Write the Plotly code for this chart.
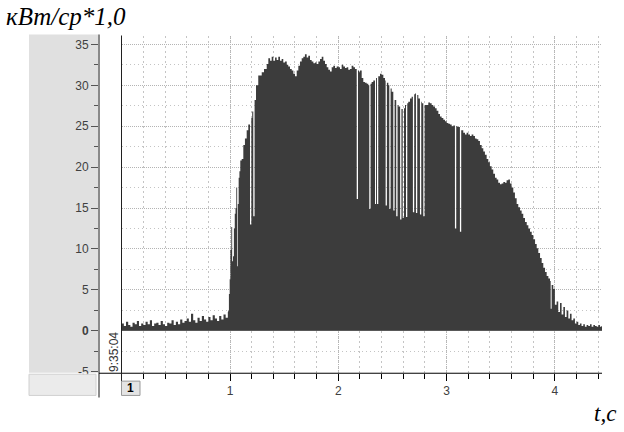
import plotly.graph_objects as go

# ---------------- data ----------------
# baseline noise before the start (t = 0 .. 0.98 s, step 0.02 s)
t_base = [round(0.02 * i, 2) for i in range(50)]
kw_base = [0.9, 0.6, 1.1, 0.7, 0.5, 1.0, 0.8, 1.2, 0.6, 0.9,
           0.7, 1.1, 0.8, 1.3, 0.6, 0.9, 1.0, 0.7, 1.2, 0.8,
           0.6, 1.0, 0.9, 1.3, 0.7, 1.1, 0.8, 1.4, 1.0, 1.2,
           1.5, 1.1, 2.1, 1.3, 1.0, 1.6, 1.2, 1.8, 1.4, 1.1,
           1.7, 1.3, 1.9, 1.5, 1.2, 1.8, 1.4, 2.0, 1.6, 2.3]

# steep rise
t_rise = [0.983, 0.990, 0.997, 1.004, 1.012, 1.020, 1.028, 1.036, 1.044, 1.051,
          1.058, 1.066, 1.072, 1.080, 1.087, 1.095, 1.108, 1.123, 1.138, 1.154,
          1.169, 1.185, 1.197, 1.205, 1.215, 1.227]
kw_rise = [2.5, 4.5, 6.3, 9.9, 12.7, 8.5, 9.1, 12.5, 14.3, 15.0,
           17.5, 7.9, 15.5, 18.7, 19.5, 20.8, 21.0, 22.7, 23.5, 24.5,
           25.2, 13.0, 26.0, 26.8, 14.0, 28.2]

# first plateau
t_peak = [1.240, 1.261, 1.293, 1.314, 1.339, 1.354, 1.370, 1.385, 1.400, 1.416,
          1.431, 1.446, 1.462, 1.477, 1.492, 1.508, 1.524, 1.538, 1.554, 1.570,
          1.585, 1.600, 1.616, 1.631, 1.646, 1.662, 1.677, 1.692, 1.708, 1.723,
          1.739, 1.754, 1.770, 1.785, 1.800, 1.816, 1.831, 1.847, 1.862, 1.877,
          1.893, 1.908, 1.923, 1.939, 1.954, 1.970, 1.985, 2.000, 2.016, 2.031,
          2.046, 2.062, 2.077, 2.092, 2.108, 2.123, 2.139, 2.154, 2.170, 2.182,
          2.191, 2.200]
kw_peak = [30.0, 31.2, 31.6, 32.0, 32.6, 33.3, 33.0, 33.5, 33.0, 33.4,
           33.1, 33.5, 33.0, 33.2, 32.8, 32.9, 32.5, 32.3, 32.0, 31.8,
           31.4, 31.1, 31.8, 32.4, 32.9, 33.3, 33.5, 33.8, 33.4, 33.6,
           33.1, 32.9, 32.7, 32.8, 32.6, 32.9, 33.2, 33.5, 33.0, 32.6,
           32.2, 31.9, 31.7, 32.2, 32.4, 32.1, 32.3, 32.2, 32.0, 32.5,
           32.3, 32.1, 32.2, 31.9, 32.0, 32.4, 32.2, 32.0, 16.1, 31.8,
           31.6, 31.8]

# middle part with many dropouts
t_mid = [2.216, 2.231, 2.246, 2.262, 2.277, 2.286, 2.298, 2.308, 2.323, 2.339,
         2.348, 2.357, 2.369, 2.385, 2.400, 2.416, 2.431, 2.437, 2.449, 2.462,
         2.471, 2.483, 2.493, 2.508, 2.520, 2.535, 2.547, 2.556, 2.571, 2.583,
         2.595, 2.607, 2.616, 2.625, 2.637, 2.646, 2.662, 2.677, 2.689, 2.701,
         2.708, 2.717, 2.729, 2.739, 2.754, 2.766, 2.772, 2.785, 2.797, 2.816,
         2.831, 2.847, 2.862, 2.877, 2.893, 2.908, 2.924, 2.939, 2.954, 2.970,
         2.985, 3.000, 3.016, 3.031, 3.047, 3.062, 3.077, 3.089, 3.102]
kw_mid = [30.9, 30.4, 30.3, 30.2, 30.0, 14.9, 30.2, 30.4, 30.6, 15.5,
          30.9, 15.5, 31.1, 31.4, 31.3, 30.9, 30.6, 15.3, 30.3, 30.0,
          14.9, 29.6, 29.2, 14.7, 28.2, 14.0, 27.6, 27.4, 13.6, 27.1,
          13.8, 27.2, 27.6, 13.9, 27.8, 28.0, 28.4, 28.6, 14.5, 28.9,
          29.0, 14.4, 28.8, 28.4, 14.2, 28.0, 27.8, 14.0, 27.6, 27.6,
          27.9, 27.8, 27.6, 27.4, 27.2, 26.9, 26.5, 26.2, 26.0, 25.8,
          25.6, 25.4, 25.3, 25.2, 25.0, 25.1, 12.5, 25.0, 24.9]

# decline and tail
t_fall = [3.123, 3.135, 3.154, 3.170, 3.185, 3.200, 3.216, 3.231, 3.247, 3.262,
          3.277, 3.293, 3.308, 3.324, 3.339, 3.354, 3.370, 3.385, 3.400, 3.416,
          3.431, 3.447, 3.462, 3.477, 3.493, 3.508, 3.524, 3.539, 3.554, 3.570,
          3.585, 3.600, 3.616, 3.631, 3.647, 3.662, 3.678, 3.693, 3.708, 3.724,
          3.740, 3.755, 3.770, 3.786, 3.801, 3.817, 3.832, 3.847, 3.863, 3.878,
          3.893, 3.909, 3.924, 3.940, 3.955, 3.961, 3.970, 3.985, 4.000, 4.016,
          4.031, 4.047, 4.062, 4.078, 4.093, 4.108, 4.124, 4.139, 4.154, 4.170,
          4.185, 4.200, 4.216, 4.231, 4.246, 4.262, 4.277, 4.293, 4.308, 4.324,
          4.339, 4.355, 4.370, 4.386, 4.401, 4.416, 4.430, 4.435]
kw_fall = [12.1, 24.5, 24.2, 24.0, 24.2, 24.0, 23.8, 24.0, 23.8, 23.5,
           23.4, 23.2, 22.7, 22.3, 21.9, 21.5, 21.0, 20.6, 20.1, 19.7,
           19.2, 18.7, 18.5, 18.1, 17.9, 18.0, 18.2, 18.1, 18.4, 18.5,
           18.0, 17.5, 16.9, 16.2, 15.5, 15.1, 14.7, 14.3, 13.8, 13.3,
           12.9, 12.5, 12.1, 11.7, 11.2, 10.6, 10.1, 9.5, 8.9, 8.3,
           7.7, 7.2, 6.7, 6.4, 6.1, 2.7, 5.6, 5.1, 3.2, 3.6,
           2.3, 3.4, 2.0, 2.9, 1.7, 2.5, 1.5, 2.1, 1.3, 1.5,
           0.9, 1.1, 0.7, 0.9, 0.6, 0.8, 0.5, 0.7, 0.6, 0.8,
           0.5, 0.7, 0.6, 0.5, 0.7, 0.5, 0.6, 0.6]

t_all = t_base + t_rise + t_peak + t_mid + t_fall
kw_all = kw_base + kw_rise + kw_peak + kw_mid + kw_fall

y_ticks = [-5, 0, 5, 10, 15, 20, 25, 30, 35]
y_labels = ["-5", "<b>0</b>", "5", "10", "15", "20", "25", "30", "35"]
x_ticks = [1, 2, 3, 4]
x_labels = ["1", "2", "3", "4"]

# ---------------- layout helpers ----------------
W, H = 624, 432


def px(x):
    return x / W


def py(y):
    return 1 - y / H


FILL = "#3c3c3c"
GRID = "#b4b4b4"
GRID_MINOR = "#c4c4c4"
TICKFONT = dict(family="Liberation Sans, Arial, sans-serif", size=12, color="#404040")

fig = go.Figure()
fig.add_trace(go.Scatter(
    x=t_all, y=kw_all, mode="lines",
    line=dict(shape="hv", width=0, color=FILL),
    fill="tozeroy", fillcolor=FILL, hoverinfo="skip", showlegend=False,
))

fig.update_layout(
    width=W, height=H,
    margin=dict(l=0, r=0, t=0, b=0),
    paper_bgcolor="white", plot_bgcolor="white",
    showlegend=False,
)

fig.update_xaxes(
    domain=[px(121.7), px(602)], range=[0, 4.435],
    tickmode="array", tickvals=x_ticks, ticktext=x_labels,
    ticks="outside", ticklen=7, tickcolor="black", tickwidth=1,
    tickfont=TICKFONT,
    showline=False, zeroline=False,
    showgrid=True, gridcolor=GRID, griddash="1px,1px", gridwidth=1,
    minor=dict(tickmode="linear", tick0=0, dtick=0.2, ticks="outside", ticklen=5,
               tickcolor="black", showgrid=True, gridcolor=GRID_MINOR,
               griddash="2px,3px", gridwidth=1),
    fixedrange=True,
)

fig.update_yaxes(
    domain=[py(378), py(36)], range=[(335.5 - 378) / 8.3, (335.5 - 36) / 8.3],
    anchor="free", position=px(99), side="left",
    tickmode="array", tickvals=y_ticks, ticktext=y_labels,
    ticks="outside", ticklen=8, tickcolor="#555555", tickwidth=1,
    tickfont=TICKFONT,
    showline=False,
    zeroline=True, zerolinecolor="#b0b0b0", zerolinewidth=1,
    showgrid=True, gridcolor=GRID, griddash="1px,1px", gridwidth=1,
    minor=dict(tickmode="linear", tick0=0, dtick=2.5, ticks="outside", ticklen=5,
               tickcolor="#555555", showgrid=True, gridcolor=GRID_MINOR,
               griddash="1px,3px", gridwidth=1),
    fixedrange=True,
)

shapes = [
    # grey left panel
    dict(type="rect", xref="paper", yref="paper", x0=px(29), x1=px(98.5),
         y0=py(378), y1=py(35), fillcolor="#e0e0e0", line=dict(width=0), layer="below"),
    # lower left box (also hides the lower half of the -5 label, as in the reference)
    dict(type="rect", xref="paper", yref="paper", x0=px(29), x1=px(96),
         y0=py(401), y1=py(379.5), fillcolor="#ebebeb",
         line=dict(color="#d0d0d0", width=1), layer="above"),
    # y axis line
    dict(type="line", xref="paper", yref="paper", x0=px(99), x1=px(99),
         y0=py(35), y1=py(403), line=dict(color="#8a8a8a", width=2), layer="above"),
    # bottom axis line
    dict(type="line", xref="paper", yref="paper", x0=px(99), x1=px(602),
         y0=py(378.5), y1=py(378.5), line=dict(color="black", width=1), layer="above"),
    # left border of the plot
    dict(type="line", xref="paper", yref="paper", x0=px(121.5), x1=px(121.5),
         y0=py(36), y1=py(387), line=dict(color="#202020", width=1), layer="above"),
    # small "1" box
    dict(type="rect", xref="paper", yref="paper", x0=px(121.5), x1=px(140),
         y0=py(401), y1=py(386.5), fillcolor="#e4e4e4",
         line=dict(color="#9a9a9a", width=1), layer="above"),
]
fig.update_layout(shapes=shapes)

annotations = [
    dict(text="<i>кВт/ср*1,0</i>", x=px(4), y=py(17), xref="paper", yref="paper",
         xanchor="left", yanchor="middle", showarrow=False,
         font=dict(family="Liberation Serif, Times New Roman, serif", size=25, color="black")),
    dict(text="<i>t,с</i>", x=px(605), y=py(419), xref="paper", yref="paper",
         xanchor="center", yanchor="middle", showarrow=False,
         font=dict(family="Liberation Serif, Times New Roman, serif", size=23, color="black")),
    dict(text="9:35:04", x=px(114), y=py(357), xref="paper", yref="paper",
         xanchor="center", yanchor="middle", textangle=-90, showarrow=False,
         font=dict(family="Liberation Sans, Arial, sans-serif", size=12, color="#333333")),
    dict(text="<b>1</b>", x=px(130.8), y=py(393.8), xref="paper", yref="paper",
         xanchor="center", yanchor="middle", showarrow=False,
         font=dict(family="Liberation Sans, Arial, sans-serif", size=12, color="black")),
]
fig.update_layout(annotations=annotations)

fig.write_html("out.html")
